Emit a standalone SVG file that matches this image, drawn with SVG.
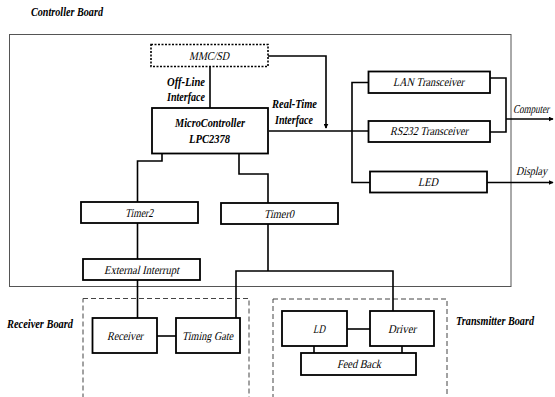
<svg xmlns="http://www.w3.org/2000/svg" width="555" height="397" viewBox="0 0 555 397">
<defs>
<marker id="arr" viewBox="0 0 8 8" refX="7" refY="4" markerWidth="5" markerHeight="5" orient="auto" markerUnits="userSpaceOnUse">
<path d="M0,0 L8,4 L0,8 z" fill="#000"/>
</marker>
</defs>
<style>
text{font-family:'Liberation Serif','Times New Roman',serif;font-size:12px;fill:#000}
.b{font-weight:bold;font-style:italic}
.i{font-style:normal}
.box{fill:#fff;stroke:#000;stroke-width:1.8}
.c{fill:none;stroke:#000;stroke-width:1.6}
.outer{fill:none;stroke:#555;stroke-width:1}
.board{fill:none;stroke:#444;stroke-width:1;stroke-dasharray:5,3}
.dot{fill:#fff;stroke:#000;stroke-width:1.6;stroke-dasharray:2,1.5}
</style>
<rect width="555" height="397" fill="#fff"/>

<g id="controller-board">
<rect class="outer" x="9.5" y="34.5" width="501.5" height="252"/>
<text class="b" x="31" y="16" textLength="72" lengthAdjust="spacingAndGlyphs">Controller Board</text>
</g>
<g id="receiver-board">
<rect class="board" x="83" y="298.5" width="166" height="100"/>
<text class="b" x="7" y="328" textLength="66" lengthAdjust="spacingAndGlyphs">Receiver Board</text>
</g>
<g id="transmitter-board">
<rect class="board" x="273" y="299" width="174" height="100"/>
<text class="b" x="456" y="325" textLength="78" lengthAdjust="spacingAndGlyphs">Transmitter Board</text>
</g>

<g id="connectors">
<path class="c" d="M210,67 V108"/>
<path class="c" d="M268,56 H326 V128" marker-end="url(#arr)"/>
<path class="c" d="M269,131 H368"/>
<path class="c" d="M368,82.5 H352 V182.5 H370"/>
<path class="c" d="M490,78 H506 V132 H490"/>
<path class="c" d="M506,119 H553" marker-end="url(#arr)"/>
<path class="c" d="M487,182.5 H553" marker-end="url(#arr)"/>
<path class="c" d="M162,154 V161 H137.5 V202"/>
<path class="c" d="M137.5,223 V259"/>
<path class="c" d="M137.5,280 V318"/>
<path class="c" d="M239,154 V174 H268 V203"/>
<path class="c" d="M268,224 V271"/>
<path class="c" d="M236,318 V271 H393 V311"/>
<path class="c" d="M157,336 H176"/>
<path class="c" d="M347,329 H370"/>
<path class="c" d="M314,346 V353"/>
<path class="c" d="M402,346 V353"/>
</g>

<g id="mmcsd">
<rect class="dot" x="151" y="44.5" width="117" height="22"/>
<text class="i" transform="translate(189,60) skewX(-13)" textLength="40" lengthAdjust="spacingAndGlyphs">MMC/SD</text>
</g>
<g id="offline-label">
<text class="b" x="167" y="86" textLength="38" lengthAdjust="spacingAndGlyphs">Off-Line</text>
<text class="b" x="167" y="101" textLength="38" lengthAdjust="spacingAndGlyphs">Interface</text>
</g>
<g id="realtime-label">
<text class="b" x="272" y="108" textLength="45" lengthAdjust="spacingAndGlyphs">Real-Time</text>
<text class="b" x="275" y="124" textLength="38" lengthAdjust="spacingAndGlyphs">Interface</text>
</g>
<g id="microcontroller">
<rect class="box" x="152" y="108" width="116" height="45.5"/>
<text class="b" x="175" y="127" textLength="70" lengthAdjust="spacingAndGlyphs">MicroController</text>
<text class="b" x="189" y="143" textLength="41" lengthAdjust="spacingAndGlyphs">LPC2378</text>
</g>
<g id="lan">
<rect class="box" x="368.5" y="71.5" width="121.5" height="21.5"/>
<text class="i" transform="translate(393,86) skewX(-13)" textLength="71" lengthAdjust="spacingAndGlyphs">LAN Transceiver</text>
</g>
<g id="rs232">
<rect class="box" x="368.5" y="121" width="121.5" height="21"/>
<text class="i" transform="translate(390,135) skewX(-13)" textLength="78" lengthAdjust="spacingAndGlyphs">RS232 Transceiver</text>
</g>
<g id="led">
<rect class="box" x="370" y="171.5" width="117" height="21"/>
<text class="i" transform="translate(418,186) skewX(-13)" textLength="20" lengthAdjust="spacingAndGlyphs">LED</text>
</g>
<g id="computer-label">
<text class="i" transform="translate(513,113) skewX(-13)" textLength="36" lengthAdjust="spacingAndGlyphs">Computer</text>
</g>
<g id="display-label">
<text class="i" transform="translate(516,175) skewX(-13)" textLength="31" lengthAdjust="spacingAndGlyphs">Display</text>
</g>
<g id="timer2">
<rect class="box" x="81" y="202" width="117" height="21"/>
<text class="i" transform="translate(125,217) skewX(-13)" textLength="28" lengthAdjust="spacingAndGlyphs">Timer2</text>
</g>
<g id="timer0">
<rect class="box" x="221" y="203" width="117" height="21"/>
<text class="i" transform="translate(264,218) skewX(-13)" textLength="30" lengthAdjust="spacingAndGlyphs">Timer0</text>
</g>
<g id="ext-interrupt">
<rect class="box" x="83" y="259" width="117" height="21"/>
<text class="i" transform="translate(104,274) skewX(-13)" textLength="75" lengthAdjust="spacingAndGlyphs">External Interrupt</text>
</g>
<g id="receiver">
<rect class="box" x="92.5" y="318" width="64.5" height="35"/>
<text class="i" transform="translate(107,340) skewX(-13)" textLength="36" lengthAdjust="spacingAndGlyphs">Receiver</text>
</g>
<g id="timing-gate">
<rect class="box" x="176" y="318" width="64" height="35"/>
<text class="i" transform="translate(182,340) skewX(-13)" textLength="51" lengthAdjust="spacingAndGlyphs">Timing Gate</text>
</g>
<g id="ld">
<rect class="box" x="282" y="311" width="65" height="35"/>
<text class="i" transform="translate(313,333) skewX(-13)" textLength="12" lengthAdjust="spacingAndGlyphs">LD</text>
</g>
<g id="driver">
<rect class="box" x="370" y="311" width="64" height="35"/>
<text class="i" transform="translate(388,333) skewX(-13)" textLength="28" lengthAdjust="spacingAndGlyphs">Driver</text>
</g>
<g id="feedback">
<rect class="box" x="301" y="353" width="115" height="22"/>
<text class="i" transform="translate(337,368) skewX(-13)" textLength="44" lengthAdjust="spacingAndGlyphs">Feed Back</text>
</g>
</svg>
